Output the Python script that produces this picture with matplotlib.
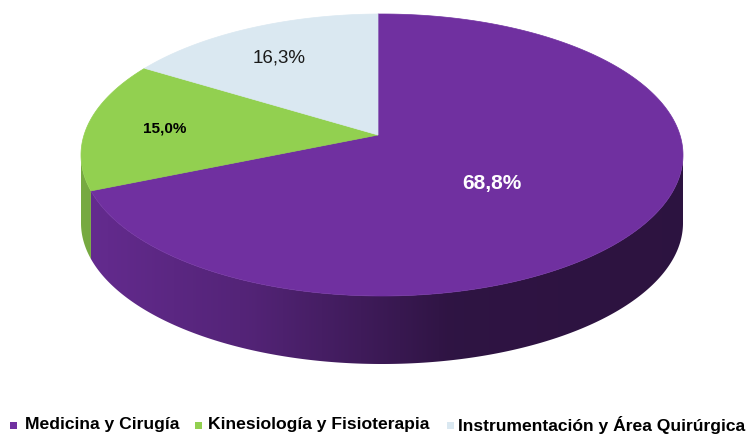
import numpy as np
import matplotlib.pyplot as plt
from matplotlib.patches import Polygon, Rectangle
from matplotlib.colors import to_rgb

labels = ['Medicina y Cirugía', 'Kinesiología y Fisioterapia', 'Instrumentación y Área Quirúrgica']
values = [68.8, 15.0, 16.3]
value_texts = ['68,8%', '15,0%', '16,3%']
colors = ['#7030A0', '#92D050', '#DAE8F1']

# geometry of the tilted pie (pixel space)
cx, cy, a, b = 382, 155, 301, 141
px, py = 378, 135
depth = 68


def rim_point(phi):
    # ray from apex, in squashed direction, to the top ellipse
    dx, dy = a * np.cos(phi), -b * np.sin(phi)
    ox, oy = px - cx, py - cy
    A = (dx / a) ** 2 + (dy / b) ** 2
    B = 2 * (ox * dx / a ** 2 + oy * dy / b ** 2)
    C = (ox / a) ** 2 + (oy / b) ** 2 - 1
    s = (-B + np.sqrt(B * B - 4 * A * C)) / (2 * A)
    return px + dx * s, py + dy * s


def data_angle(x, y):
    return np.arctan2(-(y - py) / b, (x - px) / a)


fig = plt.figure(figsize=(7.54, 4.34), dpi=100)
ax = fig.add_axes([0, 0, 1, 1])
ax.set_xlim(0, 754)
ax.set_ylim(434, 0)
ax.axis('off')

# slice angles, clockwise from 12 o'clock
fracs = np.array(values) / sum(values)
bounds = np.concatenate([[0], np.cumsum(fracs)])
starts = np.pi / 2 - 2 * np.pi * bounds[:-1]
ends = np.pi / 2 - 2 * np.pi * bounds[1:]


def slice_of(phi):
    d = (np.pi / 2 - phi) % (2 * np.pi)
    return int(np.searchsorted(2 * np.pi * bounds[1:], d))


# side wall, front half of ellipse, with horizontal shading
ts = np.linspace(np.pi, 2 * np.pi, 3000)
xs = cx + a * np.cos(ts)
ys = cy - b * np.sin(ts)
ks = np.array([slice_of(data_angle(x, y)) for x, y in zip(xs, ys)])
gx = np.linspace(0, 754, 754)
for k in range(len(values)):
    idx = np.where(ks == k)[0]
    if len(idx) == 0:
        continue
    i0, i1 = max(idx[0] - 1, 0), min(idx[-1] + 1, len(ts) - 1)
    top = list(zip(xs[i0:i1 + 1], ys[i0:i1 + 1]))
    bot = [(x, y + depth) for x, y in top[::-1]]
    poly = Polygon(top + bot, closed=True, facecolor='none', edgecolor='none')
    ax.add_patch(poly)
    if k == 1:
        f = np.interp(gx, [81, 120], [0.82, 0.78])
    else:
        f = np.interp(gx, [81, 250, 450, 683], [0.9, 0.74, 0.42, 0.40])
    img = np.array(to_rgb(colors[k]))[None, None, :] * f[None, :, None]
    im = ax.imshow(img, extent=(0, 754, 434, 0), aspect='auto', interpolation='bilinear')
    im.set_clip_path(poly)

# top face
for k in range(len(values)):
    phis = np.linspace(starts[k], ends[k], 300)
    pts = [(px, py)] + [rim_point(p) for p in phis]
    ax.add_patch(Polygon(pts, closed=True, facecolor=colors[k], edgecolor=colors[k], lw=0.5))

ax.set_xlim(0, 754)
ax.set_ylim(434, 0)

# value labels
ax.text(492, 183, value_texts[0], color='white', fontsize=15, fontweight='bold',
        family='Liberation Sans', ha='center', va='center')
ax.text(165, 128.5, value_texts[1], color='black', fontsize=11, fontweight='bold',
        family='Liberation Sans', ha='center', va='center')
ax.text(279, 58, value_texts[2], color='#1a1a1a', fontsize=13.5,
        family='Liberation Sans', ha='center', va='center')

# legend
sq_x = [10, 195, 447]
tx_x = [25, 208, 458]
for k in range(len(labels)):
    ax.add_patch(Rectangle((sq_x[k], 421.5), 7, 7, facecolor=colors[k], edgecolor='none'))
    ax.text(tx_x[k], 425, labels[k], fontsize=12.6, fontweight='bold',
            family='Liberation Sans', ha='left', va='center')

fig.savefig('out.png', dpi=100)
